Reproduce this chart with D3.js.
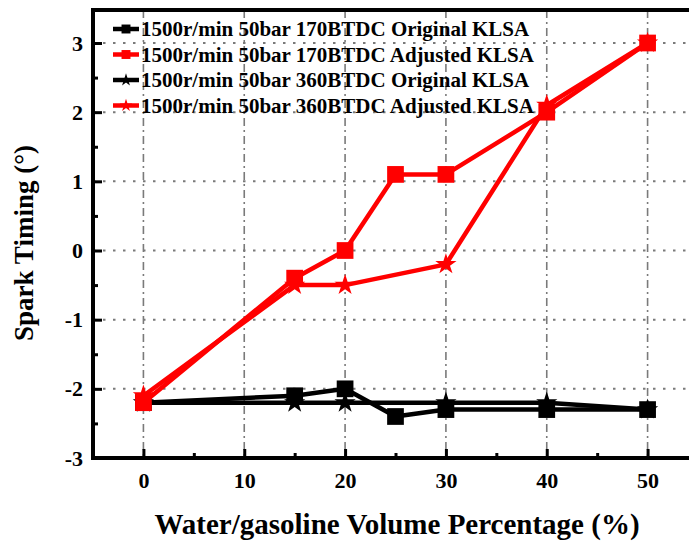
<!DOCTYPE html>
<html>
<head>
<meta charset="utf-8">
<script src="https://cdn.jsdelivr.net/npm/d3@7"></script>
<style>
  html, body { margin: 0; padding: 0; background: #fff; }
  svg { display: block; }
  text { font-family: "Liberation Serif", "Times New Roman", serif; font-weight: bold; fill: #000; }
</style>
</head>
<body>
<svg id="chart" width="689" height="541"></svg>
<script>
// Water/gasoline percentage vs. spark timing, four KLSA settings
const xSquares = [0, 15, 20, 25, 30, 40, 50];
const xStars   = [0, 15, 20, 30, 40, 50];

const original170 = [-2.2, -2.1, -2.0, -2.4, -2.3, -2.3, -2.3];
const adjusted170 = [-2.2, -0.4, 0.0, 1.1, 1.1, 2.0, 3.0];
const original360 = [-2.2, -2.2, -2.2, -2.2, -2.2, -2.3];
const adjusted360 = [-2.1, -0.5, -0.5, -0.2, 2.1, 3.0];

const seriesNames = [
  "1500r/min 50bar 170BTDC Original KLSA",
  "1500r/min 50bar 170BTDC Adjusted KLSA",
  "1500r/min 50bar 360BTDC Original KLSA",
  "1500r/min 50bar 360BTDC Adjusted KLSA"
];
const seriesColors = ["#000000", "#ff0000", "#000000", "#ff0000"];
const seriesShapes = ["square", "square", "star", "star"];

const xTicks = [0, 10, 20, 30, 40, 50];
const xMinorTicks = [5, 15, 25, 35, 45];
const yTicks = [-3, -2, -1, 0, 1, 2, 3];
const yMinorTicks = [-2.5, -1.5, -0.5, 0.5, 1.5, 2.5];

const xTitle = "Water/gasoline Volume Percentage (%)";
const yTitle = "Spark Timing (°)";

const series = [
  { xs: xSquares, ys: original170 },
  { xs: xSquares, ys: adjusted170 },
  { xs: xStars,   ys: original360 },
  { xs: xStars,   ys: adjusted360 }
].map((s, i) => ({
  name: seriesNames[i], color: seriesColors[i], shape: seriesShapes[i],
  points: s.xs.map((x, j) => ({ x, y: s.ys[j] }))
}));

const svg = d3.select("#chart");
const plotL = 93, plotR = 698, plotT = 10, plotB = 458;

const x = d3.scaleLinear().domain([-5, 55]).range([plotL, plotR]);
const y = d3.scaleLinear().domain([-3, 3]).range([plotB, 43]);

// plain hyphen for negatives
const fmt = d => String(d);

// grid
const grid = svg.append("g").attr("stroke", "#7a7a7a").attr("stroke-width", 2);
grid.selectAll("line.h").data(yTicks.filter(v => v > -3)).join("line")
  .attr("x1", plotL).attr("x2", plotR)
  .attr("y1", d => y(d)).attr("y2", d => y(d))
  .attr("stroke-dasharray", "2.5,7.5");
grid.selectAll("line.v").data(xTicks).join("line")
  .attr("x1", d => x(d)).attr("x2", d => x(d))
  .attr("y1", plotT).attr("y2", plotB)
  .attr("stroke-width", 1.6)
  .attr("stroke-dasharray", "8,4,2,4");

// axes with inward ticks
const axisStyle = g => {
  g.select(".domain").remove();
  g.selectAll(".tick line").attr("stroke", "#000").attr("stroke-width", 3);
  g.selectAll(".tick text").attr("font-size", 22).attr("font-family", "Liberation Serif").attr("font-weight", "bold");
};
svg.append("g").attr("transform", `translate(0,${plotB})`)
  .call(d3.axisBottom(x).tickValues(xTicks).tickSize(-9).tickPadding(14).tickFormat(fmt))
  .call(axisStyle);
svg.append("g").attr("transform", `translate(0,${plotB})`)
  .call(d3.axisBottom(x).tickValues(xMinorTicks).tickSize(-5).tickFormat(""))
  .call(axisStyle);
svg.append("g").attr("transform", `translate(${plotL},0)`)
  .call(d3.axisLeft(y).tickValues(yTicks).tickSize(-9).tickPadding(10).tickFormat(fmt))
  .call(axisStyle);
svg.append("g").attr("transform", `translate(${plotL},0)`)
  .call(d3.axisLeft(y).tickValues(yMinorTicks).tickSize(-5).tickFormat(""))
  .call(axisStyle);

// frame
svg.append("rect").attr("x", plotL).attr("y", plotT)
  .attr("width", plotR - plotL).attr("height", plotB - plotT)
  .attr("fill", "none").attr("stroke", "#000").attr("stroke-width", 4);

// series
const line = d3.line().x(d => x(d.x)).y(d => y(d.y));
const symbolFor = (shape, big) => shape === "square"
  ? d3.symbol(d3.symbolSquare, big ? 280 : 80)
  : d3.symbol(d3.symbolStar, big ? 140 : 50);

const drawOrder = [0, 2, 3, 1];
drawOrder.forEach(i => {
  const s = series[i];
  const g = svg.append("g");
  g.append("path").datum(s.points).attr("d", line)
    .attr("fill", "none").attr("stroke", s.color).attr("stroke-width", 4.5)
    .attr("stroke-linejoin", "round");
  g.selectAll("path.m").data(s.points).join("path")
    .attr("transform", d => `translate(${x(d.x)},${y(d.y)})`)
    .attr("d", symbolFor(s.shape, true)())
    .attr("fill", s.color);
});

// legend
const legend = svg.append("g");
series.forEach((s, i) => {
  const cy = 29 + i * 25.5;
  const g = legend.append("g").attr("transform", `translate(0,${cy})`);
  g.append("line").attr("x1", 113).attr("x2", 139).attr("y1", 0).attr("y2", 0)
    .attr("stroke", s.color).attr("stroke-width", 4.5);
  g.append("path").attr("transform", "translate(126,0)")
    .attr("d", symbolFor(s.shape, false)()).attr("fill", s.color);
  g.append("text").attr("x", 141).attr("y", 7).attr("font-size", 21).text(s.name);
});

// axis titles
svg.append("text").attr("x", 397).attr("y", 534).attr("text-anchor", "middle")
  .attr("font-size", 29).text(xTitle);
svg.append("text").attr("transform", "translate(33,243) rotate(-90)")
  .attr("text-anchor", "middle").attr("font-size", 27).text(yTitle);
</script>
</body>
</html>
